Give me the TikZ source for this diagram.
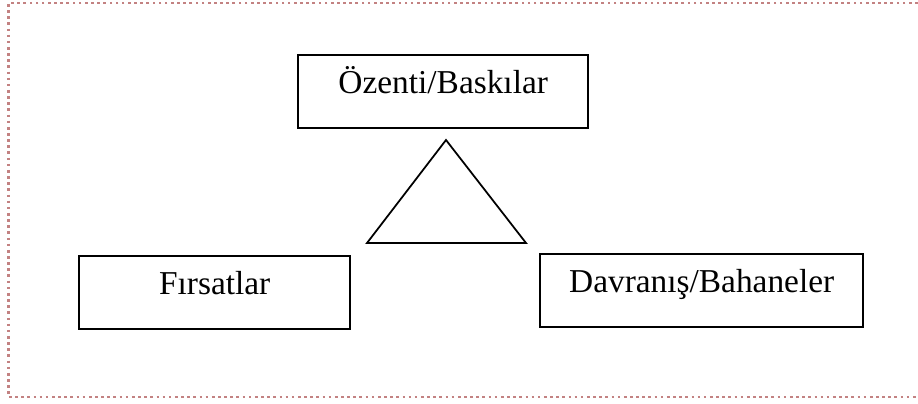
\documentclass[tikz,border=0pt]{standalone}
\usepackage{fontspec}
\setmainfont{Liberation Serif}
\definecolor{framered}{RGB}{195,130,130}
\begin{document}
\begin{tikzpicture}[
    x=0.02cm, y=-0.02cm,
    frame/.style={framered, line width=1.5pt, dotted},
    factor/.style={rectangle, draw, line width=1.4pt, anchor=north west, inner sep=0pt,
      text height=0.76cm, text depth=0.70cm, font=\fontsize{19pt}{22pt}\selectfont},
    trianglepath/.style={line width=1pt, line join=miter}
  ]
    \useasboundingbox (0,0) rectangle (918,403);
    % Frame
    \draw[frame] (930,3) -- (8.5,3) -- (8.5,397) -- (930,397);

    % Factors
    \node[factor, minimum width=5.8cm] (ozenti) at (297,54) {Özenti/Baskılar};
    \node[factor, minimum width=5.42cm] (firsat) at (78,255) {Fırsatlar};
    \node[factor, minimum width=6.46cm] (davranis) at (539,253) {Davranış/Bahaneler};

    % Triangle
    \draw[trianglepath] (446,140) -- (526,243) -- (367,243) -- cycle;
  \end{tikzpicture}
\end{document}
